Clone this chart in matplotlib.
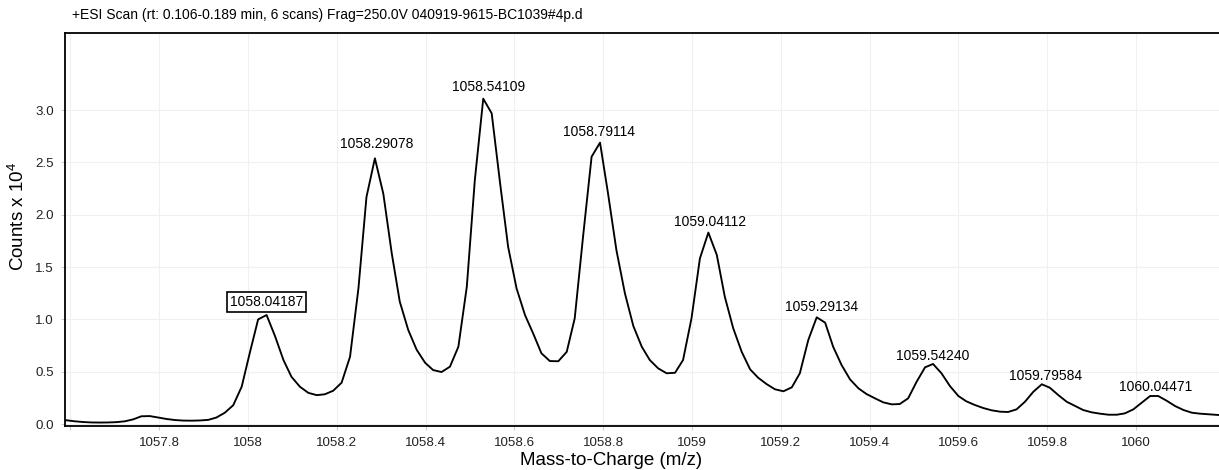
import matplotlib
matplotlib.use("Agg")
import matplotlib.pyplot as plt

plt.rcParams['font.family'] = ['Liberation Sans', 'DejaVu Sans']
plt.rcParams['mathtext.fontset'] = 'custom'
plt.rcParams['mathtext.rm'] = 'Liberation Sans'

### Data ###
title = "+ESI Scan (rt: 0.106-0.189 min, 6 scans) Frag=250.0V 040919-9615-BC1039#4p.d"

# profile spectrum, m/z and counts (x 10^4)
mz = [1057.591, 1057.610, 1057.629, 1057.648, 1057.667, 1057.685, 1057.704, 1057.723,
      1057.742, 1057.760, 1057.779, 1057.798, 1057.817, 1057.836, 1057.854, 1057.873,
      1057.892, 1057.911, 1057.929, 1057.948, 1057.967, 1057.986, 1058.004, 1058.023,
      1058.042, 1058.061, 1058.080, 1058.098, 1058.117, 1058.136, 1058.155, 1058.173,
      1058.192, 1058.211, 1058.230, 1058.249, 1058.267, 1058.286, 1058.305, 1058.324,
      1058.342, 1058.361, 1058.380, 1058.399, 1058.417, 1058.436, 1058.455, 1058.474,
      1058.493, 1058.511, 1058.530, 1058.549, 1058.568, 1058.586, 1058.605, 1058.624,
      1058.643, 1058.661, 1058.680, 1058.699, 1058.718, 1058.736, 1058.755, 1058.774,
      1058.793, 1058.811, 1058.830, 1058.849, 1058.868, 1058.887, 1058.905, 1058.924,
      1058.943, 1058.962, 1058.980, 1058.999, 1059.018, 1059.037, 1059.056, 1059.074,
      1059.093, 1059.112, 1059.131, 1059.149, 1059.168, 1059.187, 1059.206, 1059.225,
      1059.243, 1059.262, 1059.281, 1059.300, 1059.318, 1059.337, 1059.356, 1059.375,
      1059.393, 1059.412, 1059.431, 1059.450, 1059.468, 1059.487, 1059.506, 1059.525,
      1059.543, 1059.562, 1059.581, 1059.600, 1059.618, 1059.637, 1059.656, 1059.675,
      1059.694, 1059.712, 1059.731, 1059.750, 1059.769, 1059.788, 1059.806, 1059.825,
      1059.844, 1059.863, 1059.881, 1059.900, 1059.919, 1059.938, 1059.957, 1059.975,
      1059.994, 1060.013, 1060.032, 1060.050, 1060.069, 1060.088, 1060.107, 1060.126,
      1060.144, 1060.163, 1060.187]
counts = [0.036, 0.026, 0.019, 0.015, 0.014, 0.015, 0.018, 0.026,
          0.045, 0.074, 0.076, 0.062, 0.048, 0.038, 0.033, 0.032,
          0.034, 0.040, 0.062, 0.108, 0.180, 0.357, 0.676, 1.000,
          1.042, 0.841, 0.612, 0.452, 0.357, 0.298, 0.276, 0.284,
          0.318, 0.395, 0.643, 1.300, 2.170, 2.540, 2.200, 1.630,
          1.170, 0.900, 0.710, 0.586, 0.516, 0.497, 0.548, 0.739,
          1.313, 2.330, 3.110, 2.970, 2.300, 1.695, 1.297, 1.042,
          0.860, 0.676, 0.602, 0.600, 0.690, 1.010, 1.800, 2.555,
          2.690, 2.205, 1.660, 1.250, 0.937, 0.739, 0.612, 0.532,
          0.485, 0.490, 0.612, 1.010, 1.584, 1.830, 1.616, 1.217,
          0.915, 0.691, 0.523, 0.443, 0.382, 0.332, 0.313, 0.351,
          0.485, 0.803, 1.020, 0.969, 0.739, 0.564, 0.427, 0.341,
          0.287, 0.246, 0.207, 0.188, 0.191, 0.246, 0.404, 0.542,
          0.574, 0.485, 0.363, 0.268, 0.217, 0.182, 0.153, 0.131,
          0.118, 0.115, 0.140, 0.213, 0.309, 0.380, 0.347, 0.277,
          0.213, 0.172, 0.134, 0.112, 0.099, 0.089, 0.089, 0.102,
          0.140, 0.204, 0.268, 0.268, 0.223, 0.172, 0.134, 0.108,
          0.099, 0.093, 0.086]

# labelled peaks (centroid m/z and height)
peak_mz = [1058.04187, 1058.29078, 1058.54109, 1058.79114, 1059.04112,
           1059.29134, 1059.54240, 1059.79584, 1060.04471]
peak_h = [1.042, 2.574, 3.120, 2.690, 1.834, 1.021, 0.553, 0.359, 0.253]
peak_boxed = [True, False, False, False, False, False, False, False, False]

xticks = [1057.6, 1057.8, 1058.0, 1058.2, 1058.4, 1058.6, 1058.8, 1059.0,
          1059.2, 1059.4, 1059.6, 1059.8, 1060.0]
xtick_labels = ["", "1057.8", "1058", "1058.2", "1058.4", "1058.6", "1058.8", "1059",
                "1059.2", "1059.4", "1059.6", "1059.8", "1060"]
yticks = [0.0, 0.5, 1.0, 1.5, 2.0, 2.5, 3.0]

### Plot ###
fig = plt.figure(figsize=(12.19, 4.70), dpi=100)
ax = fig.add_axes([0.0533, 0.0936, 0.9467, 0.8362])

ax.plot(mz, counts, color="black", linewidth=1.35, zorder=3)

for m, h, boxed in zip(peak_mz, peak_h, peak_boxed):
    if boxed:
        ax.annotate(f"{m:.5f}", (m, h), xytext=(0, 6.2), textcoords="offset points",
                    ha="center", va="baseline", fontsize=10, zorder=4,
                    bbox=dict(boxstyle="square,pad=0.22", fc="white", ec="black", lw=1.2))
    else:
        ax.annotate(f"{m:.5f}", (m, h), xytext=(0, 4.7), textcoords="offset points",
                    ha="center", va="baseline", fontsize=10, zorder=4)

ax.set_xlim(1057.588, 1060.187)
ax.set_ylim(-0.019, 3.738)
ax.set_xticks(xticks)
ax.set_xticklabels(xtick_labels)
ax.set_yticks(yticks)
ax.set_yticklabels([f"{v:.1f}" for v in yticks])
ax.tick_params(axis="both", labelsize=9.6, length=3, color="#cccccc", pad=5, labelcolor="#222222")
ax.grid(True, color="#f0f0f0", linewidth=0.8, zorder=0)

for side in ["left", "bottom", "top"]:
    ax.spines[side].set_linewidth(1.3)
    ax.spines[side].set_color("black")
ax.spines["right"].set_visible(False)

ax.set_xlabel("Mass-to-Charge (m/z)", fontsize=13.5)
ax.xaxis.set_label_coords(0.473, -0.066)
ax.set_ylabel(r"Counts x 10$^{4}$", fontsize=13.5)
ax.yaxis.set_label_coords(-0.032, 0.534)

fig.text(72 / 1219, 1 - 14.5 / 470, title, fontsize=10, ha="left", va="center")

fig.savefig("out.png", dpi=100)
